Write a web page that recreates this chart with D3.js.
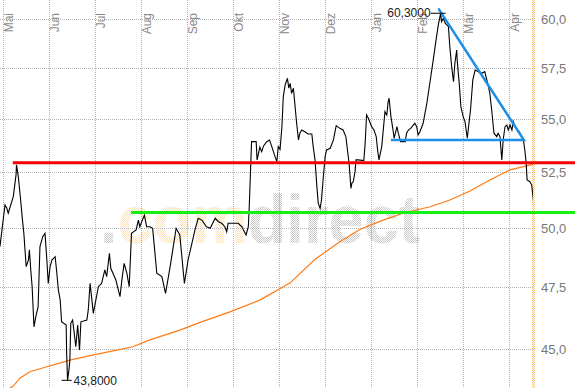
<!DOCTYPE html>
<html>
<head>
<meta charset="utf-8">
<script src="https://cdn.jsdelivr.net/npm/d3@7/dist/d3.min.js"></script>
<style>
body { margin: 0; background: #fff; }
svg { display: block; font-family: "Liberation Sans", Arial, sans-serif; }
</style>
</head>
<body>
<div id="chart"></div>
<script>
var width = 575;
var height = 388;
var plot_right = 533;

// Month labels sit on integer positions of the x scale.
var months = ["Mai", "Jun", "Jul", "Aug", "Sep", "Okt", "Nov", "Dez", "Jan", "Feb", "Mär", "Apr"];
var y_ticks = [45, 47.5, 50, 52.5, 55, 57.5, 60];

// Closing prices, position in months since the first label.
var price_t = [-0.06, 0.05, 0.09, 0.12, 0.23, 0.29, 0.30, 0.34, 0.39, 0.43, 0.46, 0.51, 0.56, 0.58, 0.61, 0.64, 0.68, 0.72, 0.77, 0.81,
    0.87, 0.92, 0.96, 0.99, 1.03, 1.07, 1.14, 1.17, 1.21, 1.25, 1.28, 1.38, 1.39, 1.41, 1.44, 1.46, 1.48, 1.52, 1.59, 1.63,
    1.67, 1.70, 1.83, 1.86, 1.90, 1.97, 2.08, 2.15, 2.22, 2.26, 2.32, 2.35, 2.46, 2.55, 2.60, 2.64, 2.70, 2.75, 2.80, 2.90,
    2.95, 2.98, 3.08, 3.13, 3.20, 3.26, 3.35, 3.46, 3.54, 3.64, 3.77, 3.85, 3.95, 4.03, 4.18, 4.25, 4.33, 4.43, 4.51, 4.62,
    4.69, 4.76, 4.83, 4.87, 4.90, 5.01, 5.12, 5.20, 5.29, 5.34, 5.36, 5.41, 5.51, 5.53, 5.59, 5.63, 5.67, 5.74, 5.80, 5.85,
    5.92, 5.96, 5.99, 6.03, 6.07, 6.10, 6.14, 6.19, 6.22, 6.25, 6.28, 6.32, 6.35, 6.39, 6.43, 6.46, 6.50, 6.57, 6.64, 6.72,
    6.75, 6.79, 6.83, 6.86, 6.90, 6.93, 6.97, 7.01, 7.04, 7.12, 7.19, 7.25, 7.33, 7.40, 7.46, 7.49, 7.53, 7.57, 7.59, 7.62,
    7.66, 7.68, 7.73, 7.85, 7.88, 7.91, 7.95, 8.02, 8.07, 8.12, 8.15, 8.18, 8.24, 8.29, 8.31, 8.35, 8.38, 8.40, 8.44, 8.48,
    8.51, 8.57, 8.60, 8.65, 8.75, 8.78, 8.82, 8.87, 8.93, 8.96, 9.00, 9.03, 9.07, 9.14, 9.22, 9.29, 9.36, 9.42, 9.47, 9.52,
    9.54, 9.58, 9.62, 9.69, 9.72, 9.76, 9.80, 9.83, 9.87, 9.88, 9.93, 9.96, 10.01, 10.05, 10.10, 10.14, 10.17, 10.22, 10.27, 10.34,
    10.41, 10.48, 10.56, 10.59, 10.63, 10.68, 10.74, 10.77, 10.81, 10.85, 10.88, 10.92, 10.96, 10.99, 11.03, 11.07, 11.10, 11.14, 11.18, 11.23,
    11.28, 11.32, 11.35, 11.38, 11.40, 11.46, 11.50, 11.52, 11.54];
var price = [49.21, 51.03, 50.88, 50.66, 51.40, 52.38, 52.84, 52.30, 51.25, 50.36, 49.78, 48.36, 48.64, 49.07, 48.22, 47.52, 45.89, 46.30, 46.70, 49.21,
    49.64, 49.78, 48.64, 47.66, 48.36, 48.64, 48.78, 48.22, 47.39, 46.97, 46.09, 45.96, 44.84, 43.80, 44.20, 44.58, 46.03, 46.16, 45.10, 45.96,
    44.97, 46.09, 46.16, 46.57, 47.66, 46.43, 47.52, 47.66, 48.22, 47.94, 48.92, 48.29, 47.80, 47.11, 47.94, 48.50, 48.08, 47.52, 49.78, 49.93,
    50.36, 50.07, 50.58, 50.07, 50.07, 50.00, 48.08, 47.94, 47.25, 48.36, 50.00, 49.71, 47.66, 48.64, 49.93, 50.44, 50.36, 50.07, 50.00, 50.44,
    50.29, 50.22, 50.07, 49.85, 50.22, 50.22, 50.22, 50.07, 49.71, 50.07, 50.95, 53.92, 53.92, 53.07, 53.66, 53.45, 53.72, 53.92, 54.00, 53.69,
    53.22, 52.99, 53.69, 53.56, 54.63, 56.08, 56.65, 56.98, 56.49, 56.73, 56.24, 56.49, 55.75, 54.79, 54.00, 54.32, 54.47, 54.39, 54.28, 54.28,
    53.69, 53.07, 51.85, 51.10, 50.88, 51.25, 52.30, 53.22, 53.53, 53.61, 54.00, 54.68, 54.55, 54.47, 54.16, 53.61, 52.92, 51.77, 52.00, 52.07,
    52.53, 53.07, 53.07, 53.04, 53.85, 55.19, 55.03, 54.63, 54.47, 54.16, 53.53, 53.07, 53.69, 54.87, 55.35, 55.19, 55.83, 56.00, 55.11, 54.55,
    54.08, 54.63, 54.32, 53.92, 53.92, 54.32, 54.47, 54.55, 54.71, 54.79, 54.63, 54.24, 54.39, 54.79, 55.75, 56.81, 57.90, 58.91, 59.69, 60.30,
    59.86, 60.04, 59.78, 59.60, 58.57, 57.56, 56.81, 57.73, 58.40, 57.90, 56.57, 55.59, 55.11, 54.87, 54.08, 54.87, 55.43, 56.90, 57.39, 57.31,
    57.23, 57.31, 56.57, 56.24, 55.43, 54.32, 54.16, 54.32, 54.16, 53.07, 54.00, 54.63, 54.71, 54.47, 54.71, 54.47, 54.87, 54.63, 54.47, 54.39,
    54.16, 54.00, 53.53, 52.92, 52.15, 52.07, 51.92, 51.55, 51.17];

// 200 day moving average.
var ma_t = [0.14, 0.22, 0.38, 0.59, 0.96, 1.28, 1.46, 1.97, 2.48, 2.83, 3.20, 3.85, 4.29, 4.94, 5.59, 6.25, 6.79, 7.33, 7.77, 8.27,
    8.70, 9.29, 9.72, 10.16, 10.59, 11.03, 11.53];
var ma = [43.49, 43.56, 43.89, 44.13, 44.32, 44.48, 44.58, 44.78, 44.97, 45.10, 45.37, 45.76, 46.07, 46.49, 46.97, 47.68, 48.67, 49.42, 49.96, 50.36,
    50.66, 50.95, 51.25, 51.65, 52.15, 52.61, 52.87];

// Drawn lines: resistance, support, triangle.
var resistance = [0.22, 52.94];
var support = [2.79, 50.69];
var triangle_t = [9.47, 11.33, 8.44];
var triangle_v = [60.56, 54.00, 54.00];

var high = [9.52, 60.30];
var low = [1.41, 43.80];

var de = d3.formatLocale({decimal: ",", thousands: ".", grouping: [3], currency: ["", " €"]});
var fmt_tick = de.format(".1f");
var fmt_mark = de.format(".4f");

var x = d3.scaleLinear()
    .domain([0, 11])
    .range([2.7, 508.7]);

var y = d3.scaleLog()
    .domain([45, 60])
    .range([349.3, 19]);

var svg = d3.select("#chart").append("svg")
    .attr("width", width)
    .attr("height", height);

var defs = svg.append("defs");

function addDither(id, color) {
    var p = defs.append("pattern")
        .attr("id", id)
        .attr("width", 2)
        .attr("height", 2)
        .attr("patternUnits", "userSpaceOnUse");
    p.append("rect").attr("x", 0).attr("y", 0).attr("width", 1).attr("height", 1).attr("fill", color);
    p.append("rect").attr("x", 1).attr("y", 1).attr("width", 1).attr("height", 1).attr("fill", color);
}
addDither("dither_gray", "#c8c8c8");
addDither("dither_orange", "#fce2b6");
addDither("dither_band", "#f6c470");

defs.append("clipPath").attr("id", "plotclip")
    .append("rect")
    .attr("x", 0)
    .attr("y", 0)
    .attr("width", plot_right)
    .attr("height", height);

// Watermark.
var wm = svg.append("text")
    .attr("x", 100)
    .attr("y", 243)
    .attr("font-size", 68)
    .attr("font-weight", "bold")
    .attr("textLength", 320)
    .attr("lengthAdjust", "spacingAndGlyphs");
wm.append("tspan").attr("fill", "url(#dither_gray)").text(".");
wm.append("tspan").attr("fill", "url(#dither_orange)").text("com");
wm.append("tspan").attr("fill", "url(#dither_gray)").text("direct");

// Grid.
var grid = svg.append("g")
    .attr("fill", "none")
    .attr("stroke", "#b4b4b4")
    .attr("stroke-width", 1)
    .attr("stroke-dasharray", "1,1");

grid.selectAll(".hgrid").data(y_ticks).enter().append("line")
    .attr("class", "hgrid")
    .attr("x1", 0)
    .attr("x2", plot_right)
    .attr("y1", function(d) { return Math.round(y(d)) + 0.5; })
    .attr("y2", function(d) { return Math.round(y(d)) + 0.5; });

grid.selectAll(".vgrid").data(months).enter().append("line")
    .attr("class", "vgrid")
    .attr("x1", function(d, i) { return Math.round(x(i)) + 0.5; })
    .attr("x2", function(d, i) { return Math.round(x(i)) + 0.5; })
    .attr("y1", 0)
    .attr("y2", height);

// Right edge band.
svg.append("rect")
    .attr("x", plot_right - 1)
    .attr("y", 0)
    .attr("width", 3)
    .attr("height", height)
    .attr("fill", "url(#dither_band)");

// Month labels.
svg.selectAll(".month").data(months).enter().append("text")
    .attr("class", "month")
    .attr("transform", function(d, i) { return "translate(" + (x(i) + 10) + ",13) rotate(-90)"; })
    .attr("text-anchor", "end")
    .attr("font-size", 12)
    .attr("fill", "#8a8a8a")
    .text(function(d) { return d; });

// Price axis on the right.
var y_axis = svg.append("g")
    .attr("transform", "translate(" + (plot_right + 3) + ",0)")
    .call(d3.axisRight(y).tickValues(y_ticks).tickFormat(fmt_tick).tickSize(0).tickPadding(5));
y_axis.select(".domain").remove();
y_axis.selectAll("text")
    .attr("font-family", "Liberation Sans, Arial, sans-serif")
    .attr("font-size", 13)
    .attr("fill", "#777");

var plot = svg.append("g").attr("clip-path", "url(#plotclip)");

// Moving average.
var ma_line = d3.line()
    .x(function(d) { return x(d[0]); })
    .y(function(d) { return y(d[1]); });

plot.append("path")
    .datum(d3.zip(ma_t, ma))
    .attr("fill", "none")
    .attr("stroke", "#ff7a14")
    .attr("stroke-width", 1.2)
    .attr("d", ma_line);

// Price line.
plot.append("path")
    .datum(d3.zip(price_t, price))
    .attr("fill", "none")
    .attr("stroke", "#000")
    .attr("stroke-width", 1.1)
    .attr("d", ma_line);

// Resistance (red) and support (green).
svg.append("line")
    .attr("x1", x(resistance[0]))
    .attr("x2", width)
    .attr("y1", y(resistance[1]))
    .attr("y2", y(resistance[1]))
    .attr("stroke", "#f40000")
    .attr("stroke-width", 3);

svg.append("line")
    .attr("x1", x(support[0]))
    .attr("x2", width)
    .attr("y1", y(support[1]))
    .attr("y2", y(support[1]))
    .attr("stroke", "#14f014")
    .attr("stroke-width", 3);

// Triangle.
svg.append("path")
    .datum(d3.zip(triangle_t, triangle_v))
    .attr("fill", "none")
    .attr("stroke", "#1e8fe6")
    .attr("stroke-width", 2.5)
    .attr("d", ma_line);

// High and low markers.
svg.append("line")
    .attr("x1", x(high[0]) - 10)
    .attr("x2", x(high[0]) + 5)
    .attr("y1", y(high[1]))
    .attr("y2", y(high[1]))
    .attr("stroke", "#000");
svg.append("text")
    .attr("x", x(high[0]) - 10)
    .attr("y", y(high[1]))
    .attr("dy", "0.35em")
    .attr("text-anchor", "end")
    .attr("font-size", 12)
    .attr("fill", "#222")
    .text(fmt_mark(high[1]));

svg.append("line")
    .attr("x1", x(low[0]) - 6)
    .attr("x2", x(low[0]) + 4)
    .attr("y1", y(low[1]))
    .attr("y2", y(low[1]))
    .attr("stroke", "#000");
svg.append("text")
    .attr("x", x(low[0]) + 6)
    .attr("y", y(low[1]))
    .attr("dy", "0.35em")
    .attr("font-size", 12)
    .attr("fill", "#222")
    .text(fmt_mark(low[1]));
</script>
</body>
</html>
